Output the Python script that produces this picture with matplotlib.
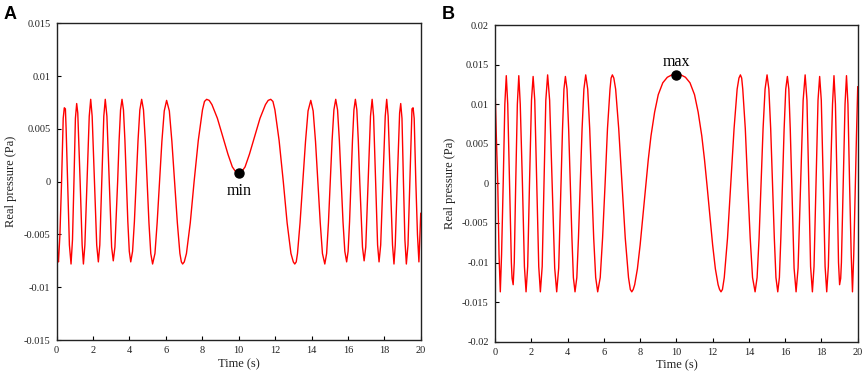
import matplotlib
matplotlib.use("Agg")
import matplotlib.pyplot as plt

# ---------------- data: (time s, real pressure Pa) ----------------
samples_a = [
    (0.00, -0.0027), (0.05, -0.0068), (0.10, -0.0076), (0.18, -0.0050), (0.27, 0.0),
    (0.36, 0.0060), (0.42, 0.0070), (0.48, 0.0069), (0.52, 0.0050), (0.60, 0.0),
    (0.70, -0.0060), (0.79, -0.0078), (0.87, -0.0055), (0.95, 0.0), (1.03, 0.0060),
    (1.10, 0.0074), (1.16, 0.0065), (1.29, 0.0), (1.40, -0.0060), (1.47, -0.0078),
    (1.55, -0.0060), (1.67, 0.0), (1.79, 0.0062), (1.87, 0.0078), (1.95, 0.0062),
    (2.08, 0.0), (2.20, -0.0060), (2.29, -0.0076), (2.37, -0.0060), (2.48, 0.0),
    (2.59, 0.0062), (2.67, 0.0078), (2.76, 0.0062), (2.89, 0.0), (3.02, -0.0062),
    (3.11, -0.0075), (3.20, -0.0062), (3.35, 0.0),
    (3.43, 0.0039), (3.51, 0.0068), (3.59, 0.0078), (3.67, 0.0068), (3.75, 0.0039), (3.83, 0.0),
    (3.91, -0.0038), (3.99, -0.0066), (4.07, -0.0076), (4.17, -0.0066), (4.27, -0.0038), (4.37, 0.0),
    (4.47, 0.0039), (4.57, 0.0068), (4.67, 0.0078), (4.77, 0.0068), (4.87, 0.0039), (4.97, 0.0),
    (5.07, -0.0039), (5.17, -0.0068), (5.27, -0.0078), (5.40, -0.0068), (5.52, -0.0039), (5.65, 0.0),
    (5.78, 0.0038), (5.91, 0.0067), (6.04, 0.0077), (6.19, 0.0067), (6.33, 0.0038), (6.48, 0.0),
    (6.63, -0.0039), (6.77, -0.0068), (6.85, -0.0076), (6.92, -0.0078), (7.01, -0.0076),
    (7.13, -0.0068), (7.34, -0.0039), (7.55, 0.0),
    (7.78, 0.0039), (8.01, 0.0068), (8.12, 0.0076), (8.24, 0.0078), (8.38, 0.0077),
    (8.53, 0.0073), (8.83, 0.0060), (9.12, 0.0043), (9.41, 0.0026), (9.65, 0.0014),
    (9.85, 0.0009), (10.00, 0.0008), (10.15, 0.0009),
    (10.35, 0.0014), (10.59, 0.0026), (10.88, 0.0043), (11.17, 0.0060), (11.47, 0.0073),
    (11.62, 0.0077), (11.76, 0.0078), (11.88, 0.0076),
    (11.99, 0.0068), (12.22, 0.0039), (12.45, 0.0),
    (12.66, -0.0039), (12.87, -0.0068), (13.00, -0.0076), (13.08, -0.0078), (13.16, -0.0076),
    (13.23, -0.0068), (13.37, -0.0039), (13.52, 0.0),
    (13.67, 0.0038), (13.81, 0.0067), (13.96, 0.0077), (14.09, 0.0067), (14.22, 0.0038), (14.35, 0.0),
    (14.48, -0.0039), (14.60, -0.0068), (14.73, -0.0078), (14.83, -0.0068), (14.93, -0.0039), (15.03, 0.0),
    (15.13, 0.0039), (15.23, 0.0068), (15.33, 0.0078), (15.43, 0.0068), (15.53, 0.0039), (15.63, 0.0),
    (15.73, -0.0038), (15.83, -0.0066), (15.93, -0.0076), (16.01, -0.0066), (16.09, -0.0038), (16.17, 0.0),
    (16.25, 0.0039), (16.33, 0.0068), (16.41, 0.0078), (16.49, 0.0068), (16.57, 0.0039), (16.65, 0.0),
    (16.80, -0.0062), (16.89, -0.0075), (16.98, -0.0062), (17.11, 0.0), (17.24, 0.0062),
    (17.33, 0.0078), (17.41, 0.0062), (17.52, 0.0), (17.63, -0.0060), (17.71, -0.0076),
    (17.80, -0.0060), (17.92, 0.0), (18.05, 0.0062), (18.13, 0.0078), (18.21, 0.0062),
    (18.33, 0.0), (18.45, -0.0060), (18.53, -0.0078), (18.60, -0.0060), (18.71, 0.0),
    (18.84, 0.0065), (18.90, 0.0074), (18.97, 0.0060), (19.05, 0.0), (19.13, -0.0055),
    (19.21, -0.0078), (19.30, -0.0060), (19.40, 0.0), (19.48, 0.0050), (19.52, 0.0069),
    (19.58, 0.0070), (19.64, 0.0060), (19.73, 0.0), (19.82, -0.0050), (19.90, -0.0076),
    (20.00, -0.0030),
]

samples_b = [
    (0.00, 0.0122), (0.07, 0.0060), (0.15, 0.0), (0.22, -0.0090), (0.29, -0.0137),
    (0.36, -0.0090), (0.45, 0.0), (0.54, 0.0100), (0.62, 0.0136), (0.70, 0.0100),
    (0.80, 0.0), (0.90, -0.0100), (0.94, -0.0120), (1.00, -0.0128), (1.06, -0.0100),
    (1.14, 0.0), (1.23, 0.0100), (1.31, 0.0136), (1.39, 0.0100), (1.51, 0.0),
    (1.62, -0.0105), (1.71, -0.0137), (1.80, -0.0105), (1.90, 0.0), (2.01, 0.0105),
    (2.10, 0.0135), (2.19, 0.0105), (2.30, 0.0), (2.41, -0.0105), (2.50, -0.0137),
    (2.60, -0.0105), (2.70, 0.0), (2.80, 0.0105), (2.90, 0.0137), (3.01, 0.0105),
    (3.15, 0.0), (3.29, -0.0107), (3.40, -0.0137), (3.51, -0.0107), (3.64, 0.0),
    (3.72, 0.0068), (3.80, 0.0119), (3.88, 0.0135), (3.97, 0.0119), (4.06, 0.0068), (4.15, 0.0),
    (4.24, -0.0069), (4.32, -0.0119), (4.41, -0.0137), (4.51, -0.0119), (4.60, -0.0069), (4.70, 0.0),
    (4.80, 0.0069), (4.90, 0.0119), (5.00, 0.0137), (5.11, 0.0119), (5.22, 0.0069), (5.33, 0.0),
    (5.44, -0.0069), (5.55, -0.0119), (5.66, -0.0137), (5.80, -0.0119), (5.93, -0.0069), (6.07, 0.0),
    (6.20, 0.0069), (6.34, 0.0119), (6.40, 0.0133), (6.47, 0.0137), (6.55, 0.0133),
    (6.65, 0.0119), (6.82, 0.0069), (7.00, 0.0),
    (7.18, -0.0069), (7.36, -0.0119), (7.46, -0.0134), (7.54, -0.0137), (7.62, -0.0134),
    (7.70, -0.0128), (7.85, -0.0108), (8.00, -0.0078), (8.15, -0.0042), (8.30, -0.0005),
    (8.45, 0.0030), (8.60, 0.0060), (8.80, 0.0090), (9.00, 0.0112), (9.25, 0.0127),
    (9.50, 0.0134), (9.75, 0.0137), (10.00, 0.0137), (10.25, 0.0137), (10.50, 0.0134),
    (10.75, 0.0127), (11.00, 0.0112), (11.20, 0.0090), (11.40, 0.0060), (11.55, 0.0030),
    (11.70, -0.0005), (11.85, -0.0042), (12.00, -0.0078), (12.15, -0.0108), (12.30, -0.0128),
    (12.38, -0.0134), (12.46, -0.0137), (12.54, -0.0134),
    (12.64, -0.0119), (12.82, -0.0069), (13.00, 0.0),
    (13.18, 0.0069), (13.35, 0.0119), (13.45, 0.0133), (13.53, 0.0137), (13.60, 0.0133),
    (13.66, 0.0119), (13.80, 0.0069), (13.93, 0.0),
    (14.07, -0.0069), (14.20, -0.0119), (14.34, -0.0137), (14.45, -0.0119), (14.56, -0.0069), (14.67, 0.0),
    (14.78, 0.0069), (14.89, 0.0119), (15.00, 0.0137), (15.10, 0.0119), (15.20, 0.0069), (15.30, 0.0),
    (15.40, -0.0069), (15.49, -0.0119), (15.59, -0.0137), (15.68, -0.0119), (15.76, -0.0069), (15.85, 0.0),
    (15.94, 0.0068), (16.03, 0.0119), (16.12, 0.0135), (16.20, 0.0119), (16.28, 0.0068), (16.36, 0.0),
    (16.49, -0.0107), (16.60, -0.0137), (16.71, -0.0107), (16.85, 0.0), (16.99, 0.0105),
    (17.10, 0.0137), (17.20, 0.0105), (17.30, 0.0), (17.40, -0.0105), (17.50, -0.0137),
    (17.59, -0.0105), (17.70, 0.0), (17.81, 0.0105), (17.90, 0.0135), (17.99, 0.0105),
    (18.10, 0.0), (18.20, -0.0105), (18.29, -0.0137), (18.38, -0.0105), (18.49, 0.0),
    (18.61, 0.0100), (18.69, 0.0136), (18.77, 0.0100), (18.86, 0.0), (18.94, -0.0100),
    (19.00, -0.0128), (19.06, -0.0120), (19.10, -0.0100), (19.20, 0.0), (19.30, 0.0100),
    (19.38, 0.0136), (19.46, 0.0100), (19.55, 0.0), (19.64, -0.0090), (19.71, -0.0137),
    (19.78, -0.0090), (19.87, 0.0), (19.93, 0.0060), (20.00, 0.0122),
]

time_a = [s[0] for s in samples_a]
pressure_a = [s[1] for s in samples_a]
time_b = [s[0] for s in samples_b]
pressure_b = [s[1] for s in samples_b]

min_point = (10.0, 0.0008)
max_point = (10.0, 0.0137)

x_ticks = [0, 2, 4, 6, 8, 10, 12, 14, 16, 18, 20]
y_ticks_a = [-0.015, -0.01, -0.005, 0, 0.005, 0.01, 0.015]
y_tick_labels_a = ["-0.015", "-0.01", "-0.005", "0", "0.005", "0.01", "0.015"]
y_ticks_b = [-0.02, -0.015, -0.01, -0.005, 0, 0.005, 0.01, 0.015, 0.02]
y_tick_labels_b = ["-0.02", "-0.015", "-0.01", "-0.005", "0", "0.005", "0.01", "0.015", "0.02"]

# ---------------- figure ----------------
serif = ["Liberation Serif", "DejaVu Serif"]
fig = plt.figure(figsize=(8.65, 3.76), dpi=100)
ax_a = fig.add_axes([0.0655, 0.0957, 0.4209, 0.8423])
ax_b = fig.add_axes([0.5723, 0.0912, 0.4193, 0.8423])


def style(ax, yticks, ylabels, ylim):
    ax.set_xlim(0, 20)
    ax.set_ylim(*ylim)
    ax.set_xticks(x_ticks)
    ax.set_xticklabels([str(v) for v in x_ticks], fontfamily=serif, fontsize=7.5, color="#222222")
    ax.set_yticks(yticks)
    ax.set_yticklabels(ylabels, fontfamily=serif, fontsize=7.5, color="#222222")
    ax.tick_params(direction="in", length=3, width=0.8, pad=4.5, top=False, right=False)
    for s in ax.spines.values():
        s.set_linewidth(1.0)
        s.set_color("#222222")
    ax.set_xlabel("Time (s)", fontfamily=serif, fontsize=9, labelpad=2, color="#222222")
    ax.set_ylabel("Real pressure (Pa)", fontfamily=serif, fontsize=9, labelpad=4.5, color="#222222")


ax_a.plot(time_a, pressure_a, color="#ff0000", lw=1.0)
ax_a.plot(*min_point, "o", color="black", ms=6.5)
ax_a.text(min_point[0], -0.0009, "min", ha="center", va="center",
          fontfamily=serif, fontsize=11.5)
style(ax_a, y_ticks_a, y_tick_labels_a, (-0.015, 0.015))

ax_b.plot(time_b, pressure_b, color="#ff0000", lw=1.0)
ax_b.plot(*max_point, "o", color="black", ms=6.5)
ax_b.text(max_point[0], 0.0153, "max", ha="center", va="center",
          fontfamily=serif, fontsize=11.5)
style(ax_b, y_ticks_b, y_tick_labels_b, (-0.02, 0.02))

fig.text(0.004, 0.985, "A", fontfamily=["Liberation Sans", "DejaVu Sans"], fontweight="bold",
         fontsize=13, ha="left", va="top")
fig.text(0.511, 0.985, "B", fontfamily=["Liberation Sans", "DejaVu Sans"], fontweight="bold",
         fontsize=13, ha="left", va="top")

fig.savefig("out.png", dpi=100)
